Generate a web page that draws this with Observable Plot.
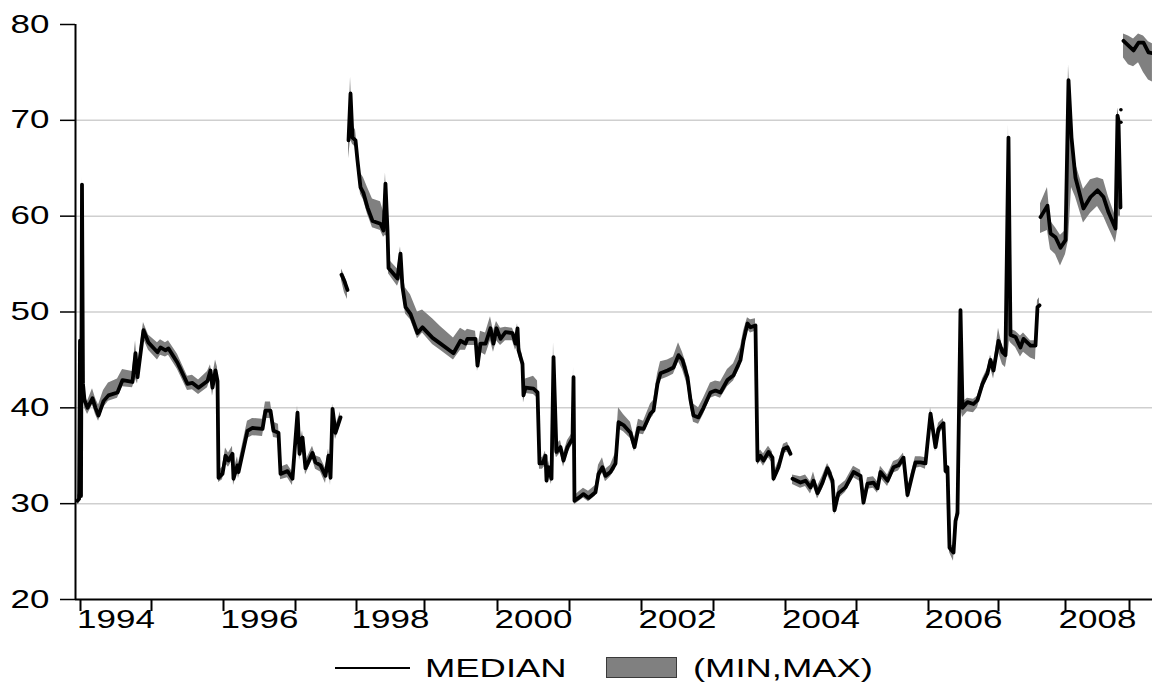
<!DOCTYPE html>
<html><head><meta charset="utf-8">
<script src="https://cdn.jsdelivr.net/npm/d3@7"></script>
<script src="https://cdn.jsdelivr.net/npm/@observablehq/plot@0.6"></script>
<style>
body{margin:0;background:#fff;font-family:"Liberation Sans",Arial,sans-serif;}
#wrap{position:relative;width:1152px;height:684px;overflow:hidden;}
#chart svg{display:block;}
.lg{position:absolute;}
.lg-text{position:absolute;font-size:26px;line-height:26px;transform:scaleX(1.4);transform-origin:0 0;white-space:nowrap;color:#000;}
</style></head><body>
<div id="wrap"><div id="chart"></div></div>
<script>
// ---- data (decimal years; gaps marked with null) ----
const years = [1994,1995,1996,1997,1998,1999,2000,2001,2002,2003,2004,2005,2006,2007,2008,2009];
const yearLabels = ["1994","1996","1998","2000","2002","2004","2006","2008"];
const yTicks = [20,30,40,50,60,70,80];
const gridValues = [30,40,50,60,70];
const xStart = 1993.93, xEnd = 2009.36;

const t = [
1993.958,1993.980,1993.993,1994.007,1994.021,1994.035,1994.056,1994.099,1994.169,1994.211,1994.254,1994.324,1994.394,1994.521,1994.592,1994.732,1994.775,1994.803,1994.887,1994.958,
1995.083,1995.125,1995.194,1995.236,1995.361,1995.500,1995.569,1995.653,1995.778,1995.819,1995.847,1995.889,1995.917,1995.931,1995.986,1996.028,1996.069,1996.125,1996.139,1996.194,
1996.208,1996.333,1996.403,1996.542,1996.583,1996.653,1996.694,1996.764,1996.792,1996.889,1996.958,1997.033,1997.066,1997.115,1997.164,1997.279,1997.328,1997.410,1997.492,1997.541,
1997.574,1997.607,1997.656,1997.738,null,
1997.754,1997.803,1997.852,null,
1997.869,1997.902,1997.934,1997.984,1998.015,1998.059,1998.103,1998.162,1998.235,1998.353,1998.397,1998.426,1998.456,1998.471,1998.603,1998.647,1998.676,1998.721,1998.794,1998.897,
1998.971,1999.110,1999.219,1999.397,1999.493,1999.562,1999.589,1999.699,1999.726,1999.767,1999.836,1999.904,1999.945,1999.986,2000.042,2000.111,2000.208,2000.250,2000.278,2000.292,
2000.347,2000.361,2000.389,2000.500,2000.556,2000.583,2000.625,2000.667,2000.681,2000.708,2000.750,2000.778,2000.819,2000.875,2000.917,2000.972,2001.042,2001.056,2001.069,2001.125,
2001.194,2001.264,2001.361,2001.403,2001.458,2001.500,2001.569,2001.639,2001.681,2001.750,2001.847,2001.903,2001.958,2002.028,2002.125,2002.167,2002.222,2002.264,2002.361,2002.444,
2002.514,2002.569,2002.639,2002.681,2002.722,2002.792,2002.861,2002.958,2003.028,2003.097,2003.194,2003.278,2003.375,2003.417,2003.472,2003.514,2003.583,2003.611,2003.653,2003.694,
2003.764,2003.819,2003.833,2003.903,2003.972,2004.028,2004.070,null,
2004.099,2004.211,2004.282,2004.352,2004.394,2004.451,2004.521,2004.592,2004.662,2004.690,2004.746,2004.845,2004.958,2005.056,2005.097,2005.153,2005.236,2005.292,2005.333,2005.431,
2005.514,2005.583,2005.653,2005.708,2005.778,2005.819,2005.889,2005.958,2006.029,2006.100,2006.143,2006.214,2006.243,2006.271,2006.300,2006.357,2006.386,2006.414,2006.457,2006.486,
2006.557,2006.643,2006.700,2006.771,2006.843,2006.886,2006.929,2007.000,2007.060,2007.104,2007.149,2007.164,2007.179,2007.254,2007.328,2007.373,2007.478,2007.552,2007.582,2007.612,null,
2007.627,2007.731,2007.776,2007.851,2007.925,2008.000,2008.047,2008.094,2008.156,2008.281,2008.391,2008.500,2008.594,2008.672,2008.781,2008.813,2008.828,2008.859,null,
2008.906,2008.984,2009.063,2009.141,2009.219,2009.297,2009.359
];

const median = [
30.3,30.5,47.0,30.8,63.3,42.5,40.8,40.0,41.0,40.0,39.2,40.7,41.3,41.6,42.9,42.7,45.7,43.2,48.1,46.8,
45.8,46.3,46.0,46.2,44.7,42.5,42.6,42.1,42.8,43.9,42.1,43.9,42.8,32.7,33.1,35.0,34.5,35.2,32.6,34.0,
33.3,37.6,37.9,37.8,39.7,39.7,37.6,37.4,33.1,33.4,32.6,39.5,35.2,36.9,33.7,35.3,34.3,34.0,32.9,35.0,
32.7,39.9,37.4,39.0,null,
53.9,53.2,52.3,null,
67.9,72.8,68.2,67.9,65.8,63.0,62.4,60.9,59.5,59.2,58.5,63.4,58.5,54.6,53.5,56.1,52.6,50.5,49.8,47.8,
48.4,47.3,46.7,45.7,47.0,46.7,47.2,47.2,44.4,46.7,46.7,48.3,46.7,48.3,47.2,47.9,47.8,46.7,48.3,46.0,
44.6,41.3,42.1,42.0,41.6,34.2,34.2,35.0,32.4,33.8,32.6,45.3,35.4,35.9,34.5,35.9,36.8,43.2,30.3,30.6,
31.0,30.6,31.2,33.1,33.8,32.9,33.3,34.2,38.5,38.2,37.4,35.9,37.9,37.8,39.4,39.7,42.5,43.6,43.9,44.2,
45.5,45.0,43.2,40.8,39.2,39.0,40.0,41.6,41.8,41.6,42.9,43.4,45.0,47.0,48.8,48.4,48.6,34.5,35.0,34.5,
35.4,34.8,32.6,33.8,35.7,35.9,35.2,null,
32.6,32.2,32.4,31.7,32.4,31.1,32.2,33.7,32.4,29.3,31.1,31.7,33.3,32.9,30.1,32.1,32.2,31.6,33.3,32.4,
33.8,34.0,34.8,30.9,33.1,34.3,34.3,34.2,39.4,35.9,37.8,38.4,33.4,33.8,25.4,24.9,28.2,29.0,50.2,40.0,
40.6,40.4,40.8,42.5,43.6,45.0,43.9,47.0,45.8,45.5,68.2,57.5,47.6,47.4,46.3,47.2,46.5,46.5,50.5,50.7,null,
59.9,61.1,58.2,57.8,56.7,57.5,74.2,68.2,64.0,60.8,62.0,62.7,62.0,60.4,58.7,70.5,70.0,60.9,null,
78.3,77.8,77.3,78.1,78.1,77.1,77.0
];

const minv = [
29.9,30.0,45.5,30.3,62.0,41.5,40.0,39.3,40.3,39.3,38.6,40.0,40.7,41.0,42.2,42.1,43.0,42.5,47.2,46.0,
45.0,45.5,45.3,45.5,44.0,41.8,41.9,41.4,42.1,43.0,41.2,43.0,41.0,32.2,32.5,34.2,33.8,34.5,31.9,33.3,
32.6,36.8,37.1,37.0,38.9,38.9,36.9,36.8,32.5,32.7,31.9,38.0,34.5,36.2,33.0,34.6,33.6,33.3,32.1,34.3,
31.9,38.5,36.7,38.3,null,
53.3,52.0,51.3,null,
66.0,68.0,67.5,67.2,65.0,62.3,61.7,60.2,58.8,58.5,57.8,58.0,57.8,54.0,52.7,53.5,52.0,49.8,49.2,47.2,
47.8,46.6,46.0,45.0,46.0,46.0,46.5,46.5,43.8,45.8,45.5,47.0,45.8,47.0,46.5,47.0,47.0,46.0,46.5,45.5,
44.0,40.5,41.5,41.4,41.0,33.6,33.6,34.0,32.0,33.0,32.0,36.0,34.8,35.3,33.8,35.2,36.2,37.0,29.9,30.2,
30.6,30.2,30.8,32.5,33.2,32.3,32.8,33.6,37.8,37.5,36.8,35.4,37.3,37.2,38.8,39.2,41.8,42.9,43.2,43.5,
44.8,44.0,42.3,40.0,38.5,38.3,39.3,41.0,41.2,41.0,42.2,42.8,44.3,46.3,48.2,47.8,48.0,34.0,34.4,33.9,
34.8,34.2,32.2,33.2,35.2,35.4,34.8,null,
32.0,31.6,31.8,31.0,31.8,30.5,31.5,33.0,31.8,28.8,30.5,31.2,32.7,32.3,29.7,31.5,31.6,31.1,32.7,31.8,
33.2,33.4,34.2,30.4,32.5,33.7,33.8,33.6,38.8,35.4,37.2,37.8,33.0,33.2,24.9,24.0,27.6,28.5,40.0,39.0,
39.6,39.5,40.0,41.8,43.0,44.2,43.0,45.8,44.5,44.2,46.0,47.0,46.8,46.3,45.3,45.8,45.2,45.0,49.8,50.0,null,
58.2,58.5,56.5,56.0,54.8,56.0,57.5,63.0,62.0,59.3,60.3,61.0,60.0,58.8,57.2,58.5,60.0,60.0,null,
76.5,75.8,75.6,76.0,75.0,74.2,74.0
];

const maxv = [
30.8,31.2,47.9,31.2,64.1,43.0,41.5,40.7,42.0,41.0,40.3,41.8,42.6,43.0,44.0,43.8,47.0,44.3,48.9,47.6,
46.8,47.1,46.8,47.0,45.6,43.3,43.4,42.9,43.8,44.5,43.2,45.0,44.2,33.4,33.8,35.8,35.3,36.0,33.4,34.9,
34.2,38.6,38.9,38.8,40.6,40.6,38.5,38.3,33.8,34.1,33.3,40.2,35.9,37.6,34.4,36.0,35.0,34.8,33.7,35.7,
33.5,40.4,38.1,39.6,null,
54.5,53.8,53.0,null,
68.5,74.5,69.5,69.0,67.0,64.5,64.0,63.0,61.8,61.5,60.5,64.5,59.5,55.5,54.5,56.8,54.0,52.5,51.8,50.0,
50.2,49.3,48.5,47.3,48.3,48.0,48.2,48.0,46.0,48.0,47.8,49.5,48.0,49.0,48.3,48.4,48.3,47.5,48.8,47.0,
45.5,42.0,43.0,43.3,42.8,35.0,34.8,35.5,33.2,34.5,33.2,46.8,36.2,36.6,35.2,36.6,37.4,44.2,30.8,31.2,
31.6,31.3,31.9,34.0,34.8,33.6,34.0,35.3,40.0,39.3,38.5,36.8,38.8,38.6,40.4,40.8,43.5,44.8,45.0,45.3,
46.8,45.8,44.2,42.0,40.4,40.0,41.0,42.6,42.8,42.7,44.0,44.6,46.3,48.0,49.4,49.2,49.3,35.2,35.6,35.2,
36.0,35.4,33.2,34.4,36.2,36.4,35.6,null,
33.0,32.8,33.0,32.3,33.3,31.8,32.9,34.2,33.2,29.9,31.8,32.4,33.9,33.5,30.7,32.7,32.8,32.3,33.9,33.0,
34.4,34.6,35.3,31.5,33.7,34.9,34.9,34.8,40.0,36.6,38.4,38.9,34.0,34.3,26.0,25.4,28.8,29.6,50.6,40.6,
41.0,40.9,41.2,43.0,44.1,45.5,44.4,48.3,46.3,46.2,69.5,58.0,48.2,48.0,47.5,47.8,47.0,47.0,51.2,51.5,null,
61.3,63.0,59.5,58.8,58.0,58.5,75.8,69.0,65.5,62.8,63.8,64.0,63.8,62.0,60.0,71.3,70.8,62.2,null,
79.0,78.8,78.5,79.0,78.8,78.2,78.0
];

// isolated single observations near the end of 2008
const dotT = [2008.866, 2008.866];
const dotV = [71.1, 69.8];

// ---- chart ----
const rows = t.map((d, i) => ({t: d, med: median[i], lo: minv[i], hi: maxv[i]}));
const dots = dotT.map((d, i) => ({t: d, v: dotV[i]}));
const xDomain = [xStart, ...years, xEnd];
const xRange = [75, 80, 151, 223, 295, 356, 424, 497, 569, 641, 713, 785, 856, 928, 998, 1065, 1129, 1152];

const chart = Plot.plot({
  width: 1152,
  height: 640,
  marginTop: 24,
  marginBottom: 41,
  marginLeft: 75,
  marginRight: 0,
  style: {fontFamily: "'Liberation Sans', Arial, sans-serif", fontSize: "25px", color: "#000", background: "#fff", overflow: "visible"},
  x: {type: "linear", domain: xDomain, range: xRange, label: null},
  y: {domain: [20, 80], label: null},
  marks: [
    Plot.ruleY(gridValues, {stroke: "#cfcfcf", strokeWidth: 1.5}),
    Plot.areaY(rows, {x: "t", y1: "lo", y2: "hi", fill: "#808080"}),
    Plot.lineY(rows, {x: "t", y: "med", stroke: "#000", strokeWidth: 3.8, strokeLinejoin: "round"}),
    Plot.dot(dots, {x: "t", y: "v", r: 1.8, fill: "#000"}),
    Plot.ruleX([xStart], {stroke: "#000", strokeWidth: 2}),
    Plot.ruleY([20], {stroke: "#000", strokeWidth: 2}),
    Plot.axisY(yTicks, {tickSize: 15, tickPadding: 11, fontSize: 25, strokeWidth: 1.5}),
    Plot.axisX(years, {tickSize: 12, tickFormat: () => "", strokeWidth: 2}),
    Plot.text(yearLabels, {x: d => +d + 0.5, text: d => d, frameAnchor: "bottom", dy: 28, fontSize: 25})
  ]
});

// stretch text horizontally like the original renderer
chart.querySelectorAll("text").forEach(el => {
  if (!el.textContent) return;
  const x = el.getAttribute("x");
  let tr = el.getAttribute("transform") || "";
  if (x !== null && !isNaN(+x)) { tr += ` translate(${+x},0)`; el.removeAttribute("x"); }
  el.setAttribute("transform", (tr + " scale(1.4,1)").trim());
});

document.getElementById("chart").appendChild(chart);

// ---- legend ----
const wrap = document.getElementById("wrap");
function add(html) { const d = document.createElement("div"); d.innerHTML = html; wrap.appendChild(d.firstChild); }
add('<div class="lg" style="left:335px;top:667px;width:75px;height:2px;background:#000"></div>');
add('<div class="lg-text" style="left:425px;top:655px">MEDIAN</div>');
add('<div class="lg" style="left:606px;top:657px;width:71px;height:21px;background:#808080;border:1px solid #3a3a3a;box-sizing:border-box"></div>');
add('<div class="lg-text" style="left:693px;top:655px">(MIN,MAX)</div>');
</script>
</body></html>
